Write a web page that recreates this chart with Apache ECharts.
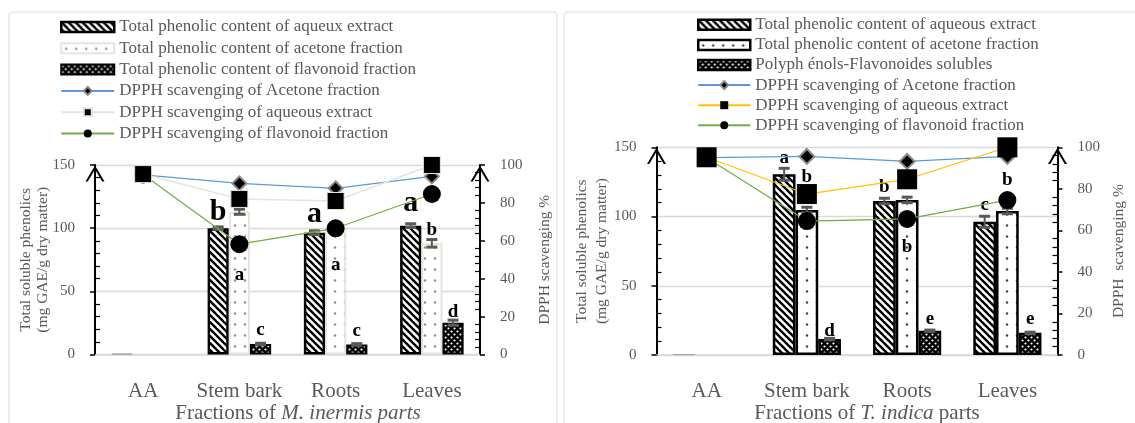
<!DOCTYPE html>
<html><head><meta charset="utf-8">
<script src="https://cdn.jsdelivr.net/npm/echarts@6/dist/echarts.min.js"></script>
<style>
html,body{margin:0;padding:0;background:#fff;overflow:hidden;}
#c1{position:absolute;left:0;top:0;width:562px;height:423px;}
#c2{position:absolute;left:562px;top:0;width:573px;height:423px;}
</style></head><body>
<div id="c1"></div><div id="c2"></div>
<script>
// ================= DATA =================
const categories = ['AA', 'Stem bark', 'Roots', 'Leaves'];
const leftAxisMax = 150, leftAxisInterval = 50;
const rightAxisMax = 100, rightAxisInterval = 20;

// --- M. inermis (left chart) ---
const miAqueous       = [0.6, 100, 96.4, 102];
const miAcetone       = [null, 113, 101, 88];
const miFlavonoid     = [null, 8.3, 8, 25.2];
const miAqueousErr    = [0, 1, 1.5, 1.5];
const miAcetoneErr    = [0, 2, 1.5, 3];
const miFlavonoidErr  = [0, 0.6, 0.6, 2];
const miAqueousLetters   = ['', 'b', 'a', 'a'];
const miAcetoneLetters   = ['', 'a', 'a', 'b'];
const miFlavonoidLetters = ['', 'c', 'c', 'd'];
const miDpphAcetone   = [94.8, 90.3, 87.7, 94];
const miDpphAqueous   = [95.2, 82.1, 81, 100];
const miDpphFlavonoid = [95, 58.2, 66.6, 84.7];

// --- T. indica (right chart) ---
const tiAqueous       = [0.6, 130.5, 111.2, 96.2];
const tiAcetone       = [null, 104.7, 112, 104];
const tiFlavonoid     = [null, 11.5, 17.5, 16];
const tiAqueousErr    = [0, 4.3, 2, 4];
const tiAcetoneErr    = [0, 2, 2, 2];
const tiFlavonoidErr  = [0, 0.5, 0.5, 0.5];
const tiAqueousLetters   = ['', 'a', 'b', 'c'];
const tiAcetoneLetters   = ['', 'b', 'b', 'b'];
const tiFlavonoidLetters = ['', 'd', 'e', 'e'];
const tiDpphAcetone   = [95, 95.6, 93.2, 95.6];
const tiDpphAqueous   = [95.2, 77.5, 84.6, 100];
const tiDpphFlavonoid = [95, 64.5, 65.5, 74.6];

// ================= STYLE HELPERS =================
const FF = "'Liberation Serif','Times New Roman',serif";
const GREY = '#595959';

function mk(w, h, draw) {
  const c = document.createElement('canvas'); c.width = w; c.height = h;
  draw(c.getContext('2d'), w, h); return { image: c, repeat: 'repeat' };
}
const hatchPat = mk(7, 7, (g, s) => {
  g.fillStyle = '#fff'; g.fillRect(0, 0, s, s);
  g.strokeStyle = '#000'; g.lineWidth = 2.4;
  for (const k of [-s, 0, s]) { g.beginPath(); g.moveTo(k - 1, -1); g.lineTo(k + s + 1, s + 1); g.stroke(); }
});
function dotPat(col) {
  return mk(10, 11, (g, w, h) => {
    g.fillStyle = '#fff'; g.fillRect(0, 0, w, h);
    g.fillStyle = col; g.beginPath(); g.arc(5, 5.5, 1.2, 0, Math.PI * 2); g.fill();
  });
}
const checkPat = mk(6, 6, (g, s) => {
  g.fillStyle = '#000'; g.fillRect(0, 0, s, s);
  g.fillStyle = '#fff';
  for (const [x, y] of [[1.5, 1.5], [4.5, 4.5]]) { g.beginPath(); g.arc(x, y, 1.1, 0, Math.PI * 2); g.fill(); }
});
const arrowPath = 'path://M0,17 L10,0 L20,17 L17.6,17 L10,4.2 L2.4,17 Z';

function build(cfg) {
  const gap = cfg.gap;
  const barSeries = cfg.bars.map((b, k) => ({
    type: 'bar', name: b.name, yAxisIndex: 0, barGap: '0%', barCategoryGap: (gap * 100) + '%',
    itemStyle: b.style, z: 2,
    label: { show: true, fontFamily: FF, fontWeight: 'bold', color: '#000', fontSize: 19, lineHeight: 19 },
    data: b.values.map((v, i) => {
      if (v == null) return '-';
      const item = { value: v };
      const lay = b.layout[i];
      if (b.letters[i] && lay) {
        const fs = lay[2] || 19;
        item.label = { show: true, formatter: b.letters[i], position: lay[0], distance: lay[1], fontSize: fs, lineHeight: fs };
      } else item.label = { show: false };
      if (i === 0 && k === 0) item.itemStyle = { color: '#c8c8c8', borderColor: '#a6a6a6', borderWidth: 1 };
      return item;
    })
  }));
  const errData = [];
  cfg.bars.forEach((b, k) => b.values.forEach((v, i) => {
    if (v != null && b.errors[i] > 0) errData.push([i, v, b.errors[i], k]);
  }));
  const errSeries = {
    type: 'custom', yAxisIndex: 0, z: 3, silent: true, data: errData, encode: { x: 0, y: 1 },
    renderItem(params, api) {
      const i = api.value(0), v = api.value(1), e = api.value(2), k = api.value(3);
      const bw = api.size([1, 0])[0] * (1 - gap) / 3;
      const x = api.coord([i, v])[0] + (k - 1) * bw;
      const yt = api.coord([i, v + e])[1], yb = api.coord([i, v - e])[1];
      return { type: 'group', children: [
        { type: 'line', shape: { x1: x, y1: yt, x2: x, y2: yb }, style: { stroke: GREY, lineWidth: 2 } },
        { type: 'line', shape: { x1: x - 5.5, y1: yt, x2: x + 5.5, y2: yt }, style: { stroke: GREY, lineWidth: 3 } },
        { type: 'line', shape: { x1: x - 5.5, y1: yb, x2: x + 5.5, y2: yb }, style: { stroke: GREY, lineWidth: 3 } }
      ] };
    }
  };
  const lineSeries = cfg.lines.map(l => ({
    type: 'line', name: l.name, yAxisIndex: 1, data: l.values, symbol: l.symbol, symbolSize: l.size,
    lineStyle: { color: l.color, width: l.width }, itemStyle: l.item, z: 5, showAllSymbol: true
  }));
  // drawing order: acetone, flavonoid, aqueous (squares on top)
  const ordered = [lineSeries[0], lineSeries[2], lineSeries[1]];

  const yBase = {
    type: 'value', min: 0,
    axisLine: { show: true, lineStyle: { color: '#000', width: 2 }, symbol: ['none', arrowPath], symbolSize: [19, 17], symbolOffset: [0, -8.5] },
    axisTick: { show: true, length: 5, lineStyle: { color: '#000', width: 1.5 } },
    minorTick: { show: true, splitNumber: 5, length: -5, lineStyle: { color: '#000', width: 1.2 } },
    axisLabel: { fontFamily: FF, fontSize: 15, color: GREY, margin: 20 },
    nameLocation: 'middle', nameRotate: 90, nameMoveOverlap: false
  };
  return {
    animation: false,
    backgroundColor: 'transparent',
    grid: cfg.grid,
    legend: {
      orient: 'vertical', left: cfg.legend.left, top: cfg.legend.top, itemWidth: cfg.legend.w, itemHeight: 10,
      itemGap: cfg.legend.gap, selectedMode: false,
      textStyle: { fontFamily: FF, fontSize: 17, color: GREY, lineHeight: 17 },
      data: cfg.bars.map(b => ({ name: b.name, icon: 'rect', itemStyle: Object.assign({}, b.style) }))
        .concat(cfg.lines.map(l => ({ name: l.name })))
    },
    xAxis: {
      type: 'category', data: categories,
      axisLine: { lineStyle: { color: '#d9d9d9', width: 1.5 } }, axisTick: { show: false },
      axisLabel: { interval: 0, fontFamily: FF, fontSize: 21, color: GREY, margin: cfg.xMargin }
    },
    yAxis: [
      Object.assign({}, yBase, {
        max: leftAxisMax, interval: leftAxisInterval, position: 'left',
        splitLine: { show: true, lineStyle: { color: '#d9d9d9', width: 1.3 } },
        name: 'Total soluble phenolics\n(mg GAE/g dry matter)', nameGap: cfg.leftNameGap,
        nameTextStyle: { fontFamily: FF, fontSize: 15.5, color: GREY, lineHeight: cfg.leftNameLH }
      }),
      Object.assign({}, yBase, {
        max: rightAxisMax, interval: rightAxisInterval, position: 'right',
        splitLine: { show: false },
        name: cfg.rightName, nameGap: cfg.rightNameGap,
        nameTextStyle: { fontFamily: FF, fontSize: 15.5, color: GREY, lineHeight: 16 }
      })
    ],
    graphic: [
      { type: 'rect', silent: true, z: -10, shape: cfg.frame, style: { fill: 'none', stroke: '#ece9e0', lineWidth: 1.6 } },
      { type: 'text', silent: true, x: cfg.title.x, y: 413, style: {
        text: cfg.title.text, align: 'center', verticalAlign: 'middle',
        rich: { n: { fontFamily: FF, fontSize: 21, fill: GREY }, i: { fontFamily: FF, fontSize: 21, fill: GREY, fontStyle: 'italic' } }
      } }
    ],
    series: barSeries.concat([errSeries]).concat(ordered)
  };
}

// ---------- left chart ----------
const leftCfg = {
  gap: 0.34,
  grid: { left: 95, top: 165, width: 385, height: 189.5 },
  legend: { left: 55, top: 13.5, w: 53, gap: 4.3 },
  xMargin: 26.7, leftNameGap: 44, leftNameLH: 17, rightNameGap: 57,
  rightName: 'DPPH scavenging %',
  frame: { x: 9, y: 12, width: 548, height: 440, r: 4 },
  title: { x: 298, text: '{n|Fractions of }{i|M. inermis parts}' },
  bars: [
    { name: 'Total phenolic content of aqueux extract', values: miAqueous, errors: miAqueousErr, letters: miAqueousLetters,
      style: { color: hatchPat, borderColor: '#000', borderWidth: 2.5 },
      layout: [null, ['top', 1, 30], ['top', 3, 30], ['top', 7, 30]] },
    { name: 'Total phenolic content of acetone fraction', values: miAcetone, errors: miAcetoneErr, letters: miAcetoneLetters,
      style: { color: dotPat('#8c8c8c'), borderColor: '#e8e4d8', borderWidth: 2 },
      layout: [null, ['insideTop', 54], ['insideTop', 29], ['top', 4]] },
    { name: 'Total phenolic content of flavonoid fraction', values: miFlavonoid, errors: miFlavonoidErr, letters: miFlavonoidLetters,
      style: { color: checkPat, borderColor: '#000', borderWidth: 2 },
      layout: [null, ['top', 4], ['top', 4], ['top', 1]] }
  ],
  lines: [
    { name: 'DPPH scavenging of Acetone fraction', values: miDpphAcetone, symbol: 'diamond', size: 14, color: '#5b9bd5', width: 1.2,
      item: { color: '#000', borderColor: '#8a8a8a', borderWidth: 2 } },
    { name: 'DPPH scavenging of aqueous extract', values: miDpphAqueous, symbol: 'rect', size: 17, color: '#e6e4da', width: 1.5,
      item: { color: '#000', borderColor: '#e6e4da', borderWidth: 1 } },
    { name: 'DPPH scavenging of flavonoid fraction', values: miDpphFlavonoid, symbol: 'circle', size: 18, color: '#70ad47', width: 1.2,
      item: { color: '#000' } }
  ]
};

// ---------- right chart ----------
const rightCfg = {
  gap: 0.32,
  grid: { left: 94.5, top: 147.3, width: 406, height: 207.7 },
  legend: { left: 130, top: 11.3, w: 52, gap: 3.1 },
  xMargin: 26.2, leftNameGap: 44.8, leftNameLH: 20, rightNameGap: 53.5,
  rightName: 'DPPH  scavenging %',
  frame: { x: 2, y: 12, width: 620, height: 440, r: 4 },
  title: { x: 305, text: '{n|Fractions of }{i|T. indica}{n| parts}' },
  bars: [
    { name: 'Total phenolic content of aqueous extract', values: tiAqueous, errors: tiAqueousErr, letters: tiAqueousLetters,
      style: { color: hatchPat, borderColor: '#000', borderWidth: 2.5 },
      layout: [null, ['top', 7], ['top', 4], ['top', 7.5]] },
    { name: 'Total phenolic content of acetone fraction', values: tiAcetone, errors: tiAcetoneErr, letters: tiAcetoneLetters,
      style: { color: dotPat('#404040'), borderColor: '#000', borderWidth: 2.5 },
      layout: [null, ['top', 23], ['insideTop', 38], ['top', 21]] },
    { name: 'Polyph énols-Flavonoides solubles', values: tiFlavonoid, errors: tiFlavonoidErr, letters: tiFlavonoidLetters,
      style: { color: checkPat, borderColor: '#000', borderWidth: 2.5 },
      layout: [null, ['top', -2], ['top', 2], ['top', 4]] }
  ],
  lines: [
    { name: 'DPPH scavenging of Acetone fraction', values: tiDpphAcetone, symbol: 'diamond', size: 15, color: '#5b9bd5', width: 1.2,
      item: { color: '#000', borderColor: '#8a8a8a', borderWidth: 2 } },
    { name: 'DPPH scavenging of aqueous extract', values: tiDpphAqueous, symbol: 'rect', size: 20, color: '#ffc000', width: 1.2,
      item: { color: '#000' } },
    { name: 'DPPH scavenging of flavonoid fraction', values: tiDpphFlavonoid, symbol: 'circle', size: 18, color: '#70ad47', width: 1.2,
      item: { color: '#000' } }
  ]
};

echarts.init(document.getElementById('c1')).setOption(build(leftCfg));
echarts.init(document.getElementById('c2')).setOption(build(rightCfg));
</script>
</body></html>
